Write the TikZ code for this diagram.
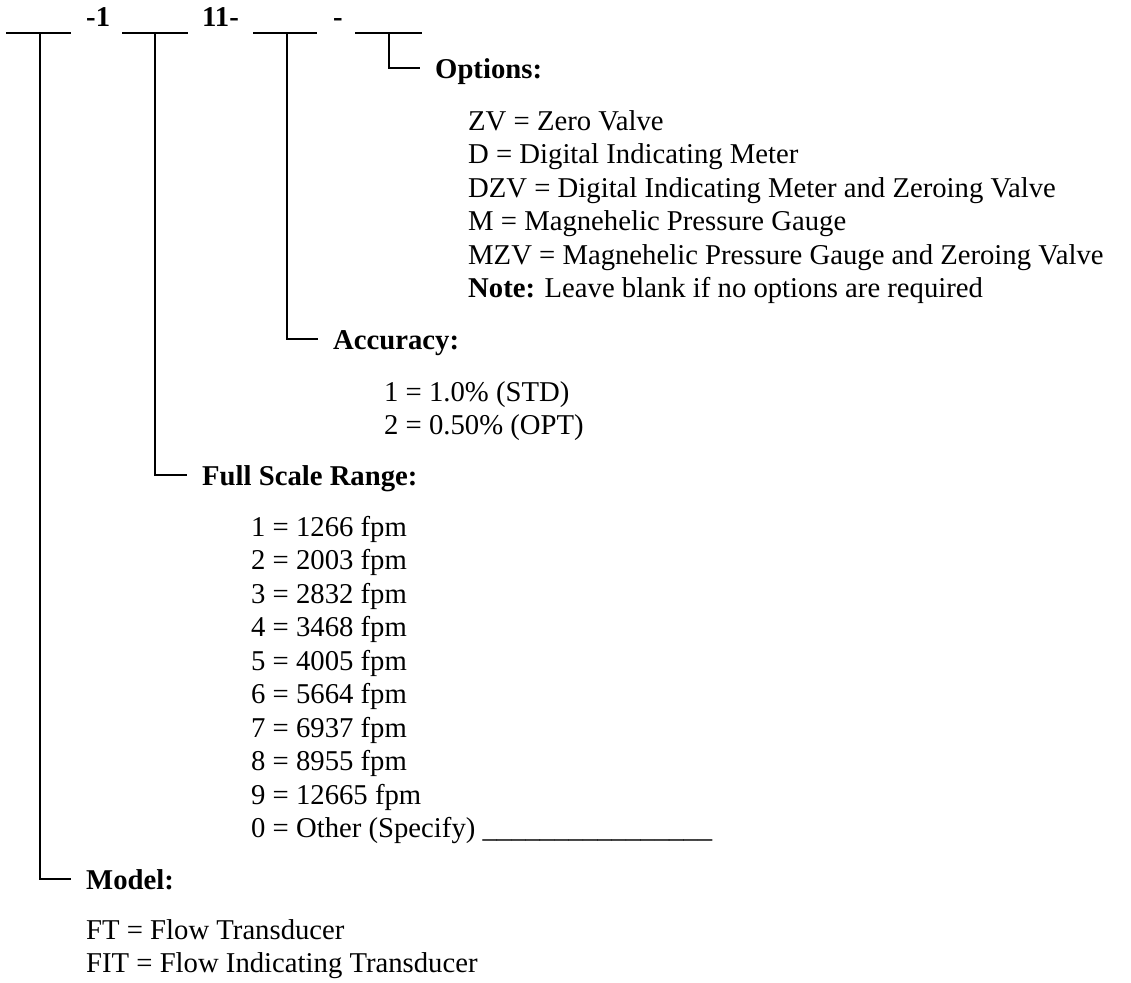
\documentclass[tikz,border=0pt]{standalone}
\usepackage{fontspec}
\setmainfont{Liberation Serif}
\begin{document}
\begin{tikzpicture}[x=1pt,y=-1pt,
  txt/.style={inner sep=0pt, anchor=base west, font=\fontsize{28.7}{33.5}\selectfont},
  lbl/.style={txt, font=\fontsize{28.7}{33.5}\selectfont\bfseries},
  ln/.style={line width=1.3pt, line cap=rect}]
\useasboundingbox (0,0) rectangle (1131,982);

% top blanks and separators
\draw[ln] (7,33) -- (70,33);
\draw[ln] (123,33) -- (187,33);
\draw[ln, line width=2pt] (254,33) -- (316,33);
\draw[ln] (356,33) -- (421,33);
\coordinate (t1) at (40,33);
\coordinate (t2) at (155,33);
\coordinate (t3) at (287,33);
\coordinate (t4) at (389,33);
\node[lbl] (s1) at (86,27) {-1};
\node[lbl] (s2) at (202,27) {11-};
\node[lbl] (s3) at (333,27) {-};

% Options
\node[lbl] (opt) at (435,78) {Options:};
\coordinate (c4) at (419,68);
\draw[ln] (t4) |- (c4);
\node[txt] (o1) at (468,130) {ZV = Zero Valve};
\node[txt] (o2) at (468,163.5) {D = Digital Indicating Meter};
\node[txt] (o3) at (468,197) {DZV = Digital Indicating Meter and Zeroing Valve};
\node[txt] (o4) at (468,230.5) {M = Magnehelic Pressure Gauge};
\node[txt] (o5) at (468,264) {MZV = Magnehelic Pressure Gauge and Zeroing Valve};
\node[txt] (o6) at (468,297.5) {\textbf{Note:} Leave blank if no options are required};

% Accuracy
\node[lbl] (acc) at (333,349) {Accuracy:};
\coordinate (c3) at (317,339);
\draw[ln] (t3) |- (c3);
\node[txt] (a1) at (384,401) {1 = 1.0\% (STD)};
\node[txt] (a2) at (384,434.5) {2 = 0.50\% (OPT)};

% Full Scale Range
\node[lbl] (fsr) at (202,485) {Full Scale Range:};
\coordinate (c2) at (186,475);
\draw[ln] (t2) |- (c2);
\node[txt] (f1) at (251,536) {1 = 1266 fpm};
\node[txt] (f2) at (251,569.5) {2 = 2003 fpm};
\node[txt] (f3) at (251,603) {3 = 2832 fpm};
\node[txt] (f4) at (251,636.5) {4 = 3468 fpm};
\node[txt] (f5) at (251,670) {5 = 4005 fpm};
\node[txt] (f6) at (251,703.5) {6 = 5664 fpm};
\node[txt] (f7) at (251,737) {7 = 6937 fpm};
\node[txt] (f8) at (251,770.5) {8 = 8955 fpm};
\node[txt] (f9) at (251,804) {9 = 12665 fpm};
\node[txt] (f0) at (251,837.5) {0 = Other (Specify) \_\_\_\_\_\_\_\_\_\_\_\_\_\_\_\_};

% Model
\node[lbl] (mod) at (86,889) {Model:};
\coordinate (c1) at (70,879);
\draw[ln] (t1) |- (c1);
\node[txt] (m1) at (86,939) {FT = Flow Transducer};
\node[txt] (m2) at (86,972.5) {FIT = Flow Indicating Transducer};
\end{tikzpicture}
\end{document}
